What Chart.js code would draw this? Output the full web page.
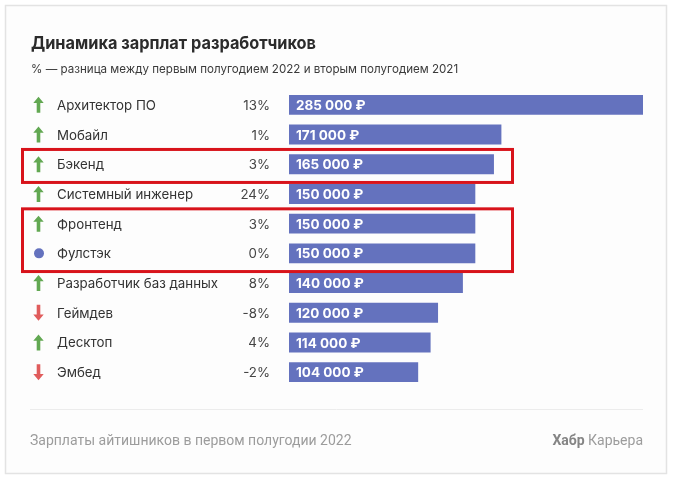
<!DOCTYPE html>
<html>
<head>
<meta charset="utf-8">
<script src="https://cdn.jsdelivr.net/npm/chart.js@4/dist/chart.umd.min.js"></script>
<style>
  html,body{margin:0;padding:0;background:#fff;}
  canvas{display:block;}
</style>
</head>
<body>
<canvas id="c" width="676" height="483"></canvas>
<script>
// data
const categories=['Архитектор ПО','Мобайл','Бэкенд','Системный инженер','Фронтенд','Фулстэк','Разработчик баз данных','Геймдев','Десктоп','Эмбед'];
const salaries=[285000,171000,165000,150000,150000,150000,140000,120000,114000,104000];
const changes=[13,1,3,24,3,0,8,-8,4,-2];
const highlights=[[2],[4,5]];
const title='Динамика зарплат разработчиков';
const subtitle='% — разница между первым полугодием 2022 и вторым полугодием 2021';
const footer='Зарплаты айтишников в первом полугодии 2022';

const BAR='#6472be', UP='#62a852', DOWN='#e05c5c', F='Inter, "Noto Sans", sans-serif';

function rub(v){return String(v).replace(/\B(?=(\d{3})+(?!\d))/g,' ')+' ₽';}

function arrow(ctx,x,y,up,col){
  ctx.save();ctx.fillStyle=col;ctx.beginPath();
  const s=up?1:-1;
  ctx.moveTo(x,y-8*s);ctx.lineTo(x+5.2,y-1.8*s);ctx.lineTo(x+1.8,y-1.8*s);
  ctx.lineTo(x+1.8,y+8*s);ctx.lineTo(x-1.8,y+8*s);ctx.lineTo(x-1.8,y-1.8*s);
  ctx.lineTo(x-5.2,y-1.8*s);ctx.closePath();ctx.fill();ctx.restore();
}

const deco={
  id:'deco',
  beforeDraw(chart){
    const ctx=chart.ctx;
    ctx.save();
    ctx.fillStyle='#fff';ctx.fillRect(0,0,676,483);
    ctx.fillStyle='#fdfdfd';ctx.fillRect(5,5,662,469);
    ctx.strokeStyle='#e3e3e3';ctx.lineWidth=1.5;ctx.strokeRect(5.5,5.5,661,468);
    ctx.restore();
  },
  afterDatasetsDraw(chart){
    const ctx=chart.ctx, y=chart.scales.y, x=chart.scales.x;
    ctx.save();
    ctx.textBaseline='alphabetic';
    ctx.fillStyle='#2b2b2b';ctx.font='700 18px '+F;ctx.fillText(title,31,49,285);
    ctx.fillStyle='#3a3a3a';ctx.font='11.6px '+F;ctx.fillText(subtitle,31,73);
    ctx.textBaseline='middle';
    categories.forEach((c,i)=>{
      const cy=y.getPixelForValue(i);
      const ch=changes[i];
      if(ch>0) arrow(ctx,38.5,cy,true,UP);
      else if(ch<0) arrow(ctx,38.5,cy,false,DOWN);
      else {ctx.fillStyle=BAR;ctx.beginPath();ctx.arc(39,cy,5,0,Math.PI*2);ctx.fill();}
      ctx.fillStyle='#333';ctx.font='13.3px '+F;ctx.textAlign='left';
      ctx.fillText(c,57,cy+1);
      ctx.textAlign='right';ctx.fillStyle='#444';
      ctx.fillText(ch+'%',270,cy+1);
      ctx.textAlign='left';ctx.fillStyle='#fff';ctx.font='700 13.5px '+F;
      ctx.fillText(rub(salaries[i]),x.getPixelForValue(0)+7,cy+1);
    });
    // highlight boxes
    ctx.strokeStyle='#d8131b';ctx.lineWidth=3;
    highlights.forEach(g=>{
      const t=y.getPixelForValue(g[0])-14.8, b=y.getPixelForValue(g[g.length-1])+18.2;
      ctx.strokeRect(22.5,t,490,b-t);
    });
    // footer
    ctx.strokeStyle='#ececec';ctx.lineWidth=1;
    ctx.beginPath();ctx.moveTo(30,409.5);ctx.lineTo(643,409.5);ctx.stroke();
    ctx.textBaseline='alphabetic';
    ctx.fillStyle='#9c9c9c';ctx.font='14px Roboto, sans-serif';ctx.textAlign='left';
    ctx.fillText(footer,30,445);
    ctx.textAlign='right';
    const w2=ctx.measureText(' Карьера').width;
    ctx.fillText(' Карьера',643,445);
    ctx.fillStyle='#858585';ctx.font='700 14px Roboto, sans-serif';
    ctx.fillText('Хабр',643-w2,445);
    ctx.restore();
  }
};

new Chart(document.getElementById('c'),{
  type:'bar',
  data:{labels:categories,datasets:[{data:salaries,backgroundColor:BAR,barPercentage:0.67,categoryPercentage:1}]},
  options:{
    indexAxis:'y',responsive:false,animation:false,
    layout:{padding:{left:289,right:33,top:90,bottom:96}},
    scales:{x:{display:false,min:0,max:285000},y:{display:false}},
    plugins:{legend:{display:false},tooltip:{enabled:false}}
  },
  plugins:[deco]
});
</script>
</body>
</html>
